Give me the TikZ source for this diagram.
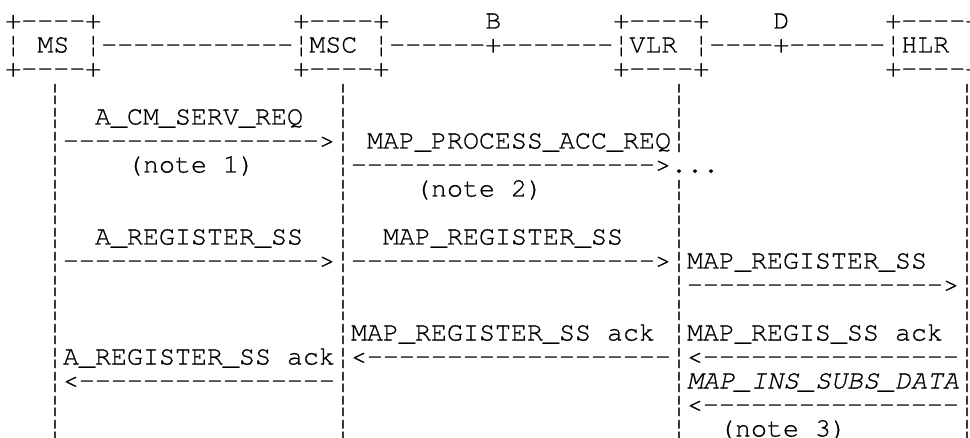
\documentclass[tikz,border=0pt]{standalone}
\usepackage{fontspec}
\setmonofont{TeX Gyre Cursor}[FakeBold=0.6]
\newcommand\hd[4]{\node[txt] (#1) at ({5.3+16*#2},{28.5+24*#3}) {#4};}
\newcommand\bd[4]{\node[txt] (#1) at ({47+16*#2},{28.5+24*#3}) {#4};}
\begin{document}
\begin{tikzpicture}[x=0.75pt,y=-0.75pt,
  txt/.style={inner sep=0pt, outer sep=0pt, anchor=base west,
    font=\ttfamily\fontsize{20pt}{24pt}\selectfont}]
\useasboundingbox (0,0) rectangle (970,438);
\fill[white] (0,0) rectangle (970,438);
\clip (0,0) rectangle (970,438);
% header
\hd{tMS}{0}{0}{+----+}
\hd{tMSC}{18}{0}{+----+}
\hd{lblB}{30}{0}{B}
\hd{tVLR}{38}{0}{+----+}
\hd{lblD}{48}{0}{D}
\hd{tHLR}{55}{0}{+----+}
\hd{MS}{0}{1}{¦ MS ¦}
\hd{lA}{6}{1}{------------}
\hd{MSC}{18}{1}{¦MSC ¦}
\hd{lB}{24}{1}{------+-------}
\hd{VLR}{38}{1}{¦VLR ¦}
\hd{lD}{44}{1}{----+------}
\hd{HLR}{55}{1}{¦HLR ¦}
\hd{bMS}{0}{2}{+----+}
\hd{bMSC}{18}{2}{+----+}
\hd{bVLR}{38}{2}{+----+}
\hd{bHLR}{55}{2}{+----+}
% lifelines
\foreach \r in {3,...,17}{
  \bd{lMS\r}{0}{\r}{¦}
  \bd{lMSC\r}{18}{\r}{¦}
  \ifnum\r=6 \else \bd{lVLR\r}{39}{\r}{¦}\fi
  \bd{lHLR\r}{57}{\r}{¦}
}
% messages
\bd{m1}{3}{4}{A\_CM\_SERV\_REQ}
\bd{a1}{1}{5}{---------------->}
\bd{m2}{20}{5}{MAP\_PROCESS\_ACC\_REQ}
\bd{n1}{5}{6}{(note 1)}
\bd{a2}{19}{6}{------------------->...}
\bd{n2}{23}{7}{(note 2)}
\bd{m3}{3}{9}{A\_REGISTER\_SS}
\bd{m4}{21}{9}{MAP\_REGISTER\_SS}
\bd{a3}{1}{10}{---------------->}
\bd{a4}{19}{10}{------------------->}
\bd{m5}{40}{10}{MAP\_REGISTER\_SS}
\bd{a5}{40}{11}{---------------->}
\bd{m6}{19}{13}{MAP\_REGISTER\_SS ack}
\bd{m7}{40}{13}{MAP\_REGIS\_SS ack}
\bd{m8}{1}{14}{A\_REGISTER\_SS ack}
\bd{a6}{19}{14}{<-------------------}
\bd{a7}{40}{14}{<----------------}
\bd{a8}{1}{15}{<----------------}
\bd{m9}{40}{15}{\itshape MAP\_INS\_SUBS\_DATA}
\bd{a9}{40}{16}{<----------------}
\bd{n3}{42}{17}{(note 3)}
\end{tikzpicture}
\end{document}
